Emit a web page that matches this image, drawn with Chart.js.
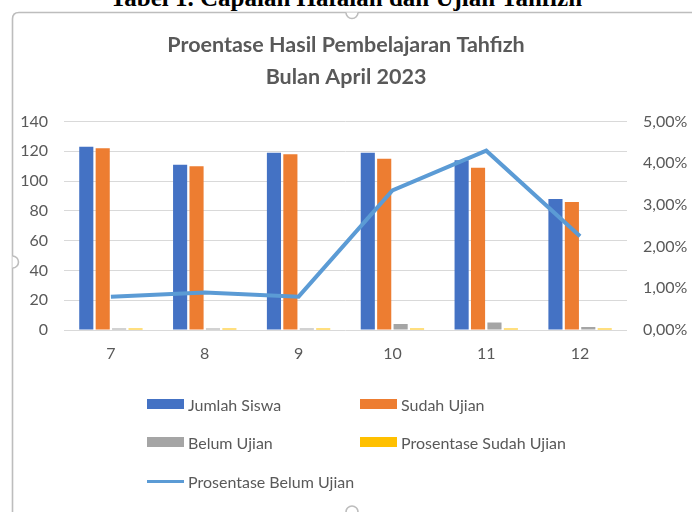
<!DOCTYPE html>
<html>
<head>
<meta charset="utf-8">
<script src="https://cdn.jsdelivr.net/npm/chart.js@4.4.0/dist/chart.umd.min.js"></script>
<style>
  body { margin: 0; background: #fff; width: 692px; height: 512px; overflow: hidden; position: relative; font-family: Lato, sans-serif; }
  #caption { position: absolute; left: 0; width: 692px; top: -15px; text-align: center; font: bold 25px "Liberation Serif", serif; color: #000; line-height: 25px; }
  #frame { position: absolute; left: 0; top: 0; }
  #box { position: absolute; left: 0; top: 0; width: 692px; height: 372px; }
  #legend { position: absolute; left: 0; top: 0; width: 692px; height: 512px; }
  .item { position: absolute; display: flex; align-items: center; font-size: 16px; color: #595959; height: 20px; }
  .sw { width: 37px; margin-right: 4px; }
</style>
</head>
<body>
<div id="caption">Tabel 1. Capaian Hafalan dan Ujian Tahfizh</div>
<svg id="frame" width="692" height="512">
  <path d="M12.5 512 V19 Q12.5 12.5 19 12.5 H692" fill="none" stroke="#bdbdbd" stroke-width="1.6"/>
  <path d="M346 12.5 A6 6 0 0 0 358 12.5" fill="#fff" stroke="#bdbdbd" stroke-width="1.6"/>
  <path d="M12.5 256 A6 6 0 0 1 12.5 268" fill="#fff" stroke="#bdbdbd" stroke-width="1.6"/>
  <path d="M346 512 A6 6 0 0 1 358 512" fill="#fff" stroke="#bdbdbd" stroke-width="1.6"/>
</svg>
<div id="box"><canvas id="mycanvas"></canvas></div>
<div id="legend"></div>
<script>
var kelas = ['7', '8', '9', '10', '11', '12'];
var jumlahSiswa = [123, 111, 119, 119, 114, 88];
var sudahUjian = [122, 110, 118, 115, 109, 86];
var belumUjian = [1, 1, 1, 4, 5, 2];
var prosenSudah = [0.99, 0.99, 0.99, 0.97, 0.96, 0.98];
var prosenBelum = [0.8, 0.9, 0.8, 3.35, 4.3, 2.25];
var judul = ['Proentase Hasil Pembelajaran Tahfizh', 'Bulan April 2023'];

var abu = '#595959';
Chart.defaults.font.family = 'Lato, sans-serif';
Chart.defaults.color = abu;

var ctx = document.getElementById('mycanvas');
var myChart = new Chart(ctx, {
    type: 'bar',
    data: {
        labels: kelas,
        datasets: [
            { label: 'Jumlah Siswa', data: jumlahSiswa, backgroundColor: '#4472C4', order: 1, yAxisID: 'y' },
            { label: 'Sudah Ujian', data: sudahUjian, backgroundColor: '#ED7D31', order: 1, yAxisID: 'y' },
            { label: 'Belum Ujian', data: belumUjian, backgroundColor: '#A5A5A5', order: 1, yAxisID: 'y' },
            { label: 'Prosentase Sudah Ujian', data: prosenSudah, backgroundColor: '#FFC000', order: 1, yAxisID: 'y' },
            { label: 'Prosentase Belum Ujian', data: prosenBelum, type: 'line', borderColor: '#5B9BD5',
              backgroundColor: '#5B9BD5', borderWidth: 4, pointRadius: 0, tension: 0, order: 0, yAxisID: 'y1' }
        ]
    },
    options: {
        responsive: true,
        maintainAspectRatio: false,
        animation: false,
        layout: { padding: { top: 29, left: 0, right: 0, bottom: 0 } },
        datasets: { bar: { categoryPercentage: 0.7, barPercentage: 0.86 } },
        plugins: {
            legend: { display: false },
            tooltip: { enabled: false },
            title: {
                display: true,
                text: judul,
                color: abu,
                font: { size: 21.5, weight: 'bold', lineHeight: 1.5 },
                padding: { top: 0, bottom: 28 }
            }
        },
        scales: {
            x: {
                grid: { display: false, drawTicks: false },
                border: { display: false },
                ticks: { padding: 14, font: { size: 16 }, color: abu },
                afterFit: function(s) { s.height = 42; }
            },
            y: {
                position: 'left',
                min: 0, max: 140,
                ticks: { stepSize: 20, padding: 16, font: { size: 16 }, color: abu },
                grid: { color: '#d9d9d9', drawTicks: false },
                border: { display: false },
                afterFit: function(s) { s.width = 64; }
            },
            y1: {
                position: 'right',
                min: 0, max: 5,
                ticks: {
                    stepSize: 1, padding: 16, font: { size: 16 }, color: abu,
                    callback: function(v) { return v.toFixed(2).replace('.', ',') + '%'; }
                },
                grid: { display: false, drawTicks: false },
                border: { display: false },
                afterFit: function(s) { s.width = 65; }
            }
        }
    }
});

// legenda dua kolom
var legend = document.getElementById('legend');
var barisY = [404, 442, 481];
var kolomX = [147, 360];
myChart.data.datasets.forEach(function(ds, i) {
    var el = document.createElement('div');
    el.className = 'item';
    el.style.left = kolomX[i % 2] + 'px';
    el.style.top = (barisY[Math.floor(i / 2)] - 10) + 'px';
    var sw = document.createElement('span');
    sw.className = 'sw';
    if (ds.type === 'line') {
        sw.style.height = '3px';
        sw.style.background = ds.borderColor;
    } else {
        sw.style.height = '10px';
        sw.style.background = ds.backgroundColor;
    }
    el.appendChild(sw);
    el.appendChild(document.createTextNode(ds.label));
    legend.appendChild(el);
});
</script>
</body>
</html>
